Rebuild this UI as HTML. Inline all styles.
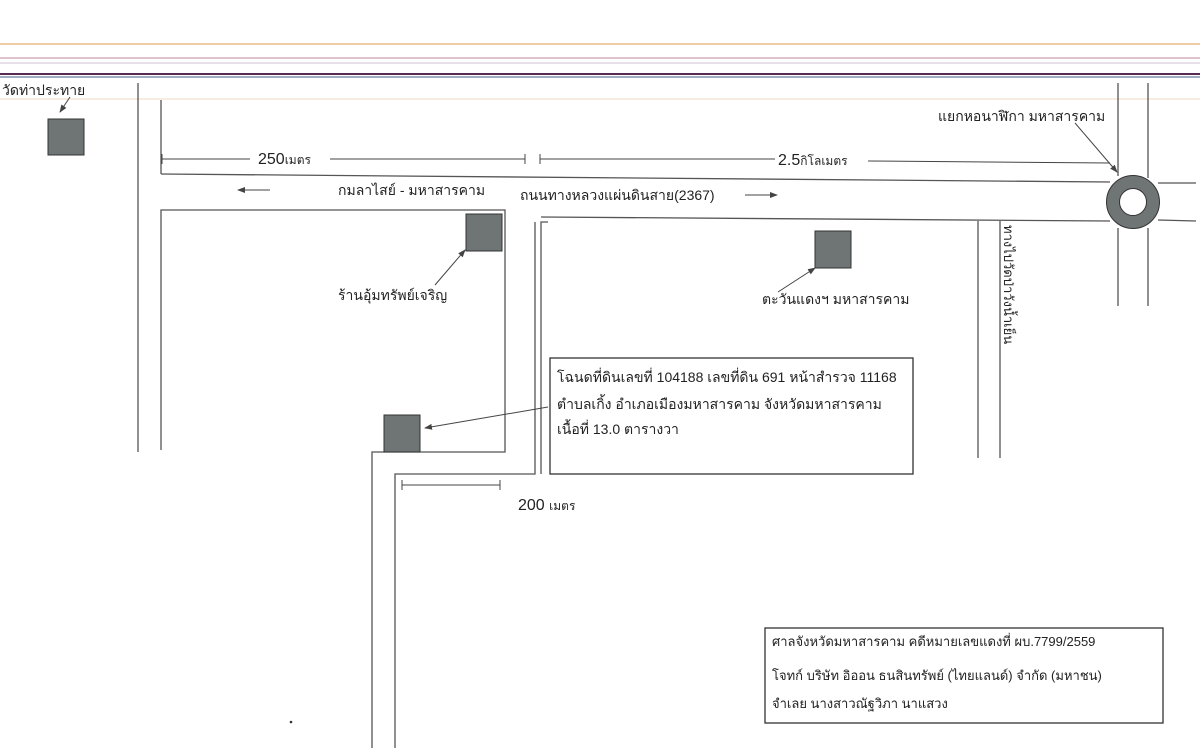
<!DOCTYPE html>
<html><head><meta charset="utf-8"><style>
html,body{margin:0;padding:0;background:#fff;}
svg{display:block;}
text{font-family:"Liberation Sans","Noto Sans CJK SC",sans-serif;fill:#222;}
</style></head><body>
<svg width="1200" height="748" viewBox="0 0 1200 748" xmlns="http://www.w3.org/2000/svg">
<defs><marker id="a" markerWidth="8" markerHeight="8" refX="7" refY="4" orient="auto"><path d="M0,1 L8,4 L0,7 z" fill="#444"/></marker></defs>
<!-- header lines -->
<line x1="0" y1="44" x2="1200" y2="44" stroke="#e9b98a" stroke-width="1.5"/>
<line x1="0" y1="58" x2="1200" y2="58" stroke="#c9a0b0" stroke-width="1.2"/>
<line x1="0" y1="63" x2="1200" y2="63" stroke="#ccc0d8" stroke-width="1"/>
<line x1="0" y1="74" x2="1200" y2="74" stroke="#5a2a50" stroke-width="2"/>
<line x1="0" y1="77" x2="1200" y2="77" stroke="#6a7a9a" stroke-width="1.2"/>
<line x1="0" y1="99" x2="1200" y2="99" stroke="#f0d8c0" stroke-width="1"/>
<g stroke="#555" stroke-width="1.3" fill="none">
<line x1="138" y1="83" x2="138" y2="452"/>
<line x1="161" y1="100" x2="161" y2="174"/>
<line x1="161" y1="174" x2="1110" y2="182"/>
<line x1="1158" y1="183" x2="1196" y2="183"/>
<polyline points="161,450 161,210 505,210 505,452 372,452 372,748"/>
<polyline points="395,748 395,474 535,474 535,222"/>
<polyline points="541,474 541,222 548,222"/>
<line x1="541" y1="217" x2="1110" y2="221"/>
<line x1="1158" y1="220" x2="1196" y2="221"/>
<line x1="978" y1="221" x2="978" y2="458"/>
<line x1="1000" y1="221" x2="1000" y2="458"/>
<line x1="1118" y1="83" x2="1118" y2="176"/>
<line x1="1148" y1="83" x2="1148" y2="178"/>
<line x1="1118" y1="228" x2="1118" y2="306"/>
<line x1="1148" y1="228" x2="1148" y2="306"/>
</g>
<circle cx="1133" cy="202" r="20" fill="none" stroke="#6f7475" stroke-width="13"/>
<circle cx="1133" cy="202" r="26.5" fill="none" stroke="#333" stroke-width="1"/>
<circle cx="1133" cy="202" r="13.5" fill="none" stroke="#333" stroke-width="1"/>
<!-- dimension lines -->
<g stroke="#444" stroke-width="1">
<line x1="162" y1="159" x2="250" y2="159"/><line x1="330" y1="159" x2="525" y2="159"/>
<line x1="162" y1="154" x2="162" y2="164"/><line x1="525" y1="154" x2="525" y2="164"/>
<line x1="540" y1="159" x2="775" y2="159"/><line x1="868" y1="161" x2="1110" y2="163"/>
<line x1="540" y1="154" x2="540" y2="164"/>
<line x1="402" y1="485" x2="500" y2="485"/>
<line x1="402" y1="480" x2="402" y2="490"/><line x1="500" y1="480" x2="500" y2="490"/>
</g>
<g stroke="#444" stroke-width="1" marker-end="url(#a)">
<line x1="270" y1="190" x2="238" y2="190"/>
<line x1="745" y1="195" x2="777" y2="195"/>
<line x1="70" y1="97" x2="60" y2="112"/>
<line x1="1075" y1="123" x2="1117" y2="172"/>
<line x1="435" y1="285" x2="465" y2="250"/>
<line x1="778" y1="292" x2="815" y2="268"/>
<line x1="548" y1="407" x2="425" y2="428"/>
</g>
<!-- squares -->
<g fill="#6f7475" stroke="#333" stroke-width="1">
<rect x="48" y="119" width="36" height="36"/>
<rect x="466" y="214" width="36" height="37"/>
<rect x="815" y="231" width="36" height="37"/>
<rect x="384" y="415" width="36" height="37"/>
</g>
<rect x="550" y="358" width="363" height="116" fill="#fff" stroke="#333" stroke-width="1.3"/>
<rect x="765" y="628" width="398" height="95" fill="#fff" stroke="#333" stroke-width="1.3"/>
<circle cx="291" cy="722" r="1.3" fill="#333"/>
<!-- text -->
<g font-size="14">
<text x="2" y="95">วัดท่าประทาย</text>
<text x="258" y="164" font-size="16">250<tspan font-size="12">เมตร</tspan></text>
<text x="778" y="165" font-size="16">2.5<tspan font-size="12">กิโลเมตร</tspan></text>
<text x="938" y="121">แยกหอนาฬิกา มหาสารคาม</text>
<text x="338" y="195">กมลาไสย์ - มหาสารคาม</text>
<text x="520" y="200">ถนนทางหลวงแผ่นดินสาย(2367)</text>
<text x="338" y="300">ร้านอุ้มทรัพย์เจริญ</text>
<text x="762" y="304">ตะวันแดงฯ มหาสารคาม</text>
<text x="557" y="382">โฉนดที่ดินเลขที่ 104188  เลขที่ดิน 691 หน้าสำรวจ 11168</text>
<text x="557" y="409">ตำบลเกิ้ง อำเภอเมืองมหาสารคาม จังหวัดมหาสารคาม</text>
<text x="557" y="434">เนื้อที่  13.0 ตารางวา</text>
<text x="518" y="510" font-size="16">200 <tspan font-size="12">เมตร</tspan></text>
<text transform="translate(1004,225) rotate(90)" font-size="13">ทางไปวัดป่าวังน้ำเย็น</text>
<text x="772" y="646" font-size="13">ศาลจังหวัดมหาสารคาม คดีหมายเลขแดงที่ ผบ.7799/2559</text>
<text x="772" y="680" font-size="13">โจทก์ บริษัท อิออน ธนสินทรัพย์ (ไทยแลนด์) จำกัด (มหาชน)</text>
<text x="772" y="708" font-size="13">จำเลย นางสาวณัฐวิภา นาแสวง</text>
</g>
</svg>
</body></html>
